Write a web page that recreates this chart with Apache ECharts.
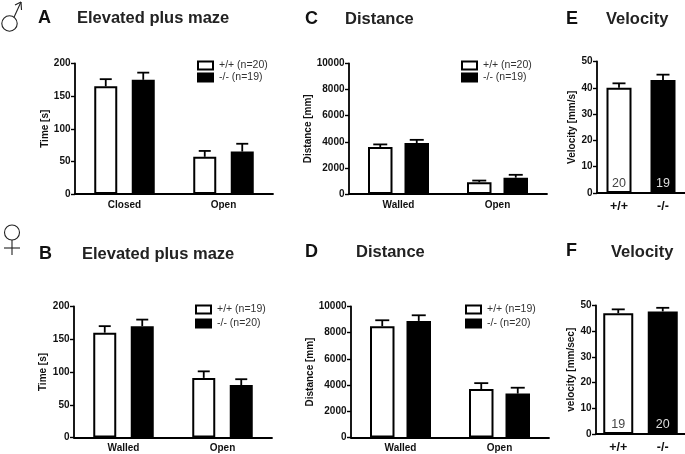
<!DOCTYPE html>
<html><head><meta charset="utf-8">
<style>html,body{margin:0;padding:0;background:#fff}#c{width:685px;height:454px;filter:blur(0.35px)}</style>
<script src="https://cdn.jsdelivr.net/npm/echarts@6/dist/echarts.min.js"></script>
</head><body><div id="c"></div>
<script>
const catsA = ['Closed','Open'];
const catsWalled = ['Walled','Open'];
const catsGeno = ['+/+','-/-'];
const timeTicksMax = 200, distTicksMax = 10000, velTicksMax = 50;

const aWild = [165,57],   aWildErr = [11,9],    aKo = [175,65],    aKoErr = [11,12];
const bWild = [160,91],   bWildErr = [10,10],   bKo = [170,80],    bKoErr = [10,9];
const cWild = [3600,900], cWildErr = [200,130], cKo = [3900,1250], cKoErr = [250,220];
const dWild = [8500,3700],dWildErr = [450,450], dKo = [8900,3350], dKoErr = [430,450];
const eVals = [40,43],    eErr = [1.7,2],       eN = ['20','19'];
const fVals = [47,47.7],  fErr = [1.5,1.4],     fN = ['19','20'];

const FONT = '"Liberation Sans", Arial, sans-serif';
const grids=[], xAxes=[], yAxes=[], series=[], legends=[], titles=[];

function errorSeries(idx, vals, errs, offset, cap){
  series.push({
    type:'custom', xAxisIndex:idx, yAxisIndex:idx, silent:true, clip:false, z:1,
    data: vals.map((v,i)=>[i, v, v+errs[i], offset]),
    encode:{x:0,y:[1,2]},
    renderItem(p,api){
      const a=api.coord([api.value(0),api.value(1)]);
      const b=api.coord([api.value(0),api.value(2)]);
      const x=a[0]+api.value(3);
      const st={stroke:'#000',lineWidth:1.8,fill:null};
      return {type:'group',children:[
        {type:'line',shape:{x1:x,y1:a[1],x2:x,y2:b[1]},style:st},
        {type:'line',shape:{x1:x-cap/2,y1:b[1],x2:x+cap/2,y2:b[1]},style:st}
      ]};
    }
  });
}

function panel(o){
  const idx=grids.length;
  grids.push({left:o.l,width:o.w,top:o.t,height:o.h,containLabel:false});
  xAxes.push({type:'category',gridIndex:idx,data:o.cats,
    axisLine:{lineStyle:{color:'#000',width:1.8}},
    axisTick:{alignWithLabel:true,length:4,lineStyle:{color:'#000',width:1.4}},
    axisLabel:{color:'#111',fontFamily:FONT,fontWeight:'bold',fontSize:o.xFont||10,margin:o.xMargin||6,interval:0}});
  yAxes.push({type:'value',gridIndex:idx,min:0,max:o.max,interval:o.max/o.div,
    name:o.yName,nameLocation:'middle',nameGap:o.nameGap,
    nameTextStyle:{color:'#111',fontFamily:FONT,fontWeight:'bold',fontSize:10},
    splitLine:{show:false},
    axisLine:{show:true,lineStyle:{color:'#000',width:1.8}},
    axisTick:{show:true,length:4,lineStyle:{color:'#000',width:1.4}},
    axisLabel:{color:'#111',fontFamily:FONT,fontWeight:'bold',fontSize:10,margin:4.5,formatter:v=>String(v)}});
  const shift=(o.bw+o.gap)/2;
  const common={type:'bar',xAxisIndex:idx,yAxisIndex:idx,barWidth:o.bw,barGap:(o.gap/o.bw*100)+'%',z:2,clip:false};
  if(o.single){
    const lab=(t,c)=>({show:true,position:'insideBottom',distance:3,color:c,fontFamily:FONT,fontSize:12.5,formatter:t});
    series.push({...common,name:'p'+idx,barGap:'-100%',
      data:[{value:o.s1[0],itemStyle:{color:'#fff',borderColor:'#000',borderWidth:2},label:lab(o.n[0],'#444')},
            {value:o.s1[1],itemStyle:{color:'#000',borderColor:'#000',borderWidth:2},label:lab(o.n[1],'#ddd')}]});
    errorSeries(idx,o.s1,o.e1,0,o.cap);
  } else {
    series.push({...common,name:o.n1,data:o.s1,itemStyle:{color:'#fff',borderColor:'#000',borderWidth:2}});
    series.push({...common,name:o.n2,data:o.s2,itemStyle:{color:'#000',borderColor:'#000',borderWidth:2}});
    errorSeries(idx,o.s1,o.e1,-shift,o.cap);
    errorSeries(idx,o.s2,o.e2,shift,o.cap);
    legends.push({orient:'vertical',left:o.legX,top:o.legY,itemWidth:15,itemHeight:8,itemGap:o.legGap,
      data:[o.n1,o.n2],icon:'rect',selectedMode:false,
      textStyle:{color:'#333',fontFamily:FONT,fontSize:10.5,padding:[0,0,0,1]},padding:0});
  }
  titles.push({text:o.letter,left:o.lx,top:o.ly,padding:0,textStyle:{fontFamily:FONT,fontWeight:'bold',fontSize:18,color:'#111'}});
  titles.push({text:o.title,left:o.tx,top:o.ty,padding:0,textStyle:{fontFamily:FONT,fontWeight:'bold',fontSize:16.5,color:'#222'}});
}

panel({letter:'A',lx:38,ly:9,title:'Elevated plus maze',tx:77,ty:10,l:75,w:198,t:63.5,h:130.5,cats:catsA,max:timeTicksMax,div:4,
  yName:'Time [s]',nameGap:25,bw:23,gap:14.5,cap:12,s1:aWild,e1:aWildErr,s2:aKo,e2:aKoErr,n1:'+/+ (n=20)',n2:'-/- (n=19)',legX:197,legY:60,legGap:1});
panel({letter:'B',lx:39,ly:245,title:'Elevated plus maze',tx:82,ty:246,l:74,w:198,t:306.5,h:131,cats:catsWalled,max:timeTicksMax,div:4,
  yName:'Time [s]',nameGap:26,bw:23,gap:14.5,cap:12,s1:bWild,e1:bWildErr,s2:bKo,e2:bKoErr,n1:'+/+ (n=19)',n2:'-/- (n=20)',legX:195,legY:304,legGap:3});
panel({letter:'C',lx:305,ly:10,title:'Distance',tx:345,ty:11,l:349,w:198,t:63.5,h:130.5,cats:catsWalled,max:distTicksMax,div:5,
  yName:'Distance [mm]',nameGap:36,bw:24.5,gap:12,cap:14,s1:cWild,e1:cWildErr,s2:cKo,e2:cKoErr,n1:'+/+ (n=20) ',n2:'-/- (n=19) ',legX:461,legY:60,legGap:1});
panel({letter:'D',lx:305,ly:243,title:'Distance',tx:356,ty:244,l:351,w:198,t:306.5,h:131,cats:catsWalled,max:distTicksMax,div:5,
  yName:'Distance [mm]',nameGap:36,bw:24.5,gap:12,cap:14,s1:dWild,e1:dWildErr,s2:dKo,e2:dKoErr,n1:'+/+ (n=19) ',n2:'-/- (n=20) ',legX:465,legY:304,legGap:3});
panel({single:true,letter:'E',lx:566,ly:10,title:'Velocity',tx:606,ty:11,l:597,w:88,t:61.5,h:131.5,cats:catsGeno,max:velTicksMax,div:5,
  yName:'Velocity [mm/s]',nameGap:20,bw:25,gap:0,cap:13,s1:eVals,e1:eErr,n:eN,xFont:12.5,xMargin:7});
panel({single:true,letter:'F',lx:566,ly:242,title:'Velocity',tx:611,ty:244,l:596,w:89,t:305.5,h:131.5,cats:catsGeno,max:velTicksMax,div:5,
  yName:'velocity [mm/sec]',nameGap:18,bw:30,gap:0,cap:13,s1:fVals,e1:fErr,n:fN,xFont:12.5,xMargin:7});

const sym={stroke:'#222',lineWidth:1.1,fill:null};
const line=(x1,y1,x2,y2)=>({type:'line',shape:{x1,y1,x2,y2},style:sym});
const chart=echarts.init(document.getElementById('c'),null,{renderer:'canvas'});
chart.setOption({animation:false,backgroundColor:'#fff',grid:grids,xAxis:xAxes,yAxis:yAxes,series,legend:legends,title:titles,
  graphic:[
    {type:'circle',shape:{cx:9.5,cy:23.5,r:7.7},style:sym},
    line(14,17.3,21,2), line(21,2,15,5), line(21,2,21.5,10),
    {type:'circle',shape:{cx:12,cy:232.5,r:7.5},style:sym},
    line(12,240,12,255), line(4,248,20,248)
  ]});
</script></body></html>
